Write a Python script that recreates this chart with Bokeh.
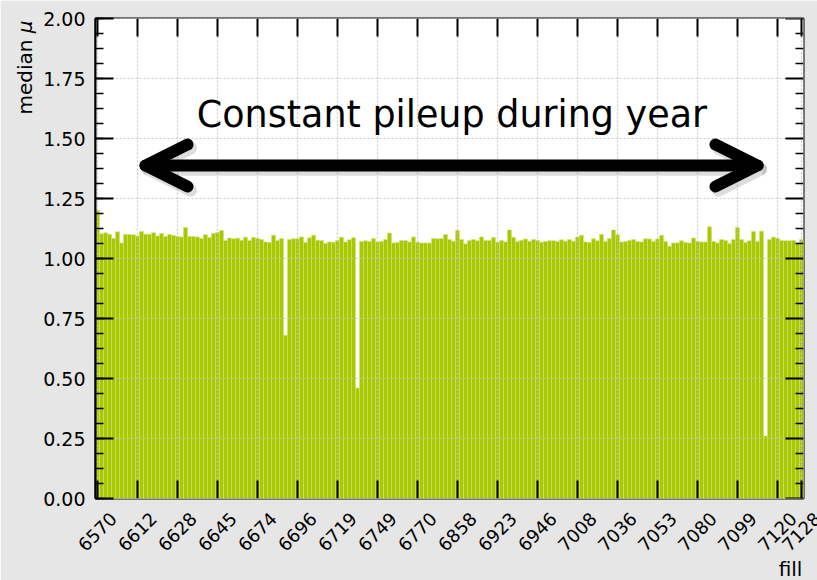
from math import pi
from bokeh.plotting import figure
from bokeh.models import (ColumnDataSource, SingleIntervalTicker,
                          Range1d, Label, Arrow, OpenHead, BoxAnnotation, NumeralTickFormatter)
from bokeh.core.properties import value
from bokeh.embed import file_html
from bokeh.resources import INLINE

# median pileup per fill (one bar per fill, in fill order)
median_mu = [
    1.200, 1.103, 1.107, 1.101, 1.083, 1.111, 1.065, 1.100, 1.100, 1.099,
    1.094, 1.113, 1.101, 1.101, 1.107, 1.094, 1.104, 1.092, 1.100, 1.096,
    1.093, 1.090, 1.129, 1.092, 1.092, 1.090, 1.083, 1.099, 1.088, 1.104,
    1.108, 1.117, 1.075, 1.085, 1.082, 1.084, 1.076, 1.089, 1.075, 1.088,
    1.083, 1.079, 1.069, 1.067, 1.097, 1.075, 1.083, 0.680, 1.079, 1.082,
    1.082, 1.090, 1.067, 1.086, 1.097, 1.076, 1.075, 1.063, 1.069, 1.068,
    1.075, 1.089, 1.069, 1.078, 1.086, 0.460, 1.071, 1.074, 1.071, 1.083,
    1.069, 1.071, 1.079, 1.106, 1.065, 1.067, 1.075, 1.075, 1.069, 1.090,
    1.068, 1.065, 1.065, 1.065, 1.083, 1.082, 1.083, 1.100, 1.079, 1.072,
    1.117, 1.079, 1.061, 1.075, 1.079, 1.074, 1.090, 1.075, 1.075, 1.088,
    1.068, 1.075, 1.069, 1.119, 1.088, 1.071, 1.076, 1.081, 1.072, 1.079,
    1.075, 1.068, 1.071, 1.074, 1.074, 1.071, 1.078, 1.072, 1.079, 1.072,
    1.090, 1.097, 1.069, 1.067, 1.082, 1.074, 1.100, 1.071, 1.083, 1.119,
    1.099, 1.069, 1.071, 1.075, 1.079, 1.071, 1.069, 1.082, 1.081, 1.071,
    1.081, 1.097, 1.071, 1.051, 1.065, 1.065, 1.074, 1.067, 1.065, 1.085,
    1.071, 1.069, 1.069, 1.132, 1.071, 1.065, 1.079, 1.075, 1.063, 1.079,
    1.129, 1.079, 1.067, 1.074, 1.113, 1.071, 1.114, 0.260, 1.079, 1.089,
    1.083, 1.075, 1.074, 1.074, 1.075, 1.060, 1.079,
]

# fill numbers shown as tick labels (every 10th bar, plus the last one)
tick_labels = ["6570", "6612", "6628", "6645", "6674", "6696", "6719", "6749", "6770",
               "6858", "6923", "6946", "7008", "7036", "7053", "7080", "7099", "7120", "7128"]

n = len(median_mu)
bar_index = list(range(n))
tick_index = list(range(0, n, 10)) + [n - 1]

source = ColumnDataSource(data=dict(x=bar_index, top=median_mu))

FONT = "DejaVu Sans"
Y0, Y1 = 0.0, 2.0
X0, X1 = -0.5, n - 0.5
PX_X = (X1 - X0) / 708.0     # data units per pixel, x
PX_Y = (Y1 - Y0) / 480.0     # data units per pixel, y

p = figure(width=817, height=580, output_backend="svg", toolbar_location=None,
           x_range=Range1d(X0, X1), y_range=Range1d(Y0, Y1),
           min_border_left=95, min_border_right=14, min_border_top=18, min_border_bottom=82,
           border_fill_color="#e6e6e6", background_fill_color="white",
           outline_line_color="black", outline_line_width=2)

# white panel with dark border
p.add_layout(BoxAnnotation(left=11, right=900, top=7, bottom=700,
                           left_units="canvas", right_units="canvas", top_units="canvas",
                           bottom_units="canvas", fill_color="white", fill_alpha=1.0,
                           line_color="#222222", line_width=2, level="image"))
p.add_layout(BoxAnnotation(left=135, right=635, top=556, bottom=700,
                           left_units="canvas", right_units="canvas", top_units="canvas",
                           bottom_units="canvas", fill_color="#f2f2f2", fill_alpha=1.0,
                           line_color=None, border_radius=22, level="image"))

# bars
p.vbar(x="x", top="top", width=1.0, source=source,
       fill_color="#a8c900", line_color="#cfe27a", line_width=0.6)

# dotted grid drawn over the bars
major_y = [0.25 * k for k in range(9)]
minor_y = [0.0625 * k for k in range(33) if k % 4 != 0]
p.xgrid.visible = False
p.ygrid.visible = False
p.segment(x0=tick_index, y0=[Y0] * len(tick_index), x1=tick_index, y1=[Y1] * len(tick_index),
          line_color="#c4c4c4", line_dash="2 2", line_width=1.2, line_alpha=0.9)
p.segment(x0=[X0] * len(major_y), y0=major_y, x1=[X1] * len(major_y), y1=major_y,
          line_color="#c4c4c4", line_dash="2 2", line_width=1.2, line_alpha=0.9)

# inward ticks on bottom, top and right edges
k = len(tick_index)
p.segment(x0=tick_index, y0=[Y0] * k, x1=tick_index, y1=[Y0 + 18 * PX_Y] * k,
          line_color="black", line_width=2)
p.segment(x0=tick_index, y0=[Y1 - 18 * PX_Y] * k, x1=tick_index, y1=[Y1] * k,
          line_color="black", line_width=2)
p.segment(x0=[X1 - 18 * PX_X] * len(major_y), y0=major_y, x1=[X1] * len(major_y), y1=major_y,
          line_color="black", line_width=2)
p.segment(x0=[X1 - 8 * PX_X] * len(minor_y), y0=minor_y, x1=[X1] * len(minor_y), y1=minor_y,
          line_color="black", line_width=1.5)

# bottom axis hidden; its rotated labels are drawn as text centred under the ticks
p.xaxis.visible = False
p.text(x=[i + 16 * PX_X for i in tick_index], y=[Y0 - 17 * PX_Y] * k,
       text=tick_labels, angle=pi / 4, text_align="right", text_baseline="middle",
       text_font=value(FONT), text_font_size="18px", text_color="black", level="overlay")

ya = p.yaxis[0]
ya.ticker = SingleIntervalTicker(interval=0.25, num_minor_ticks=4)
ya.formatter = NumeralTickFormatter(format="0.00")
ya.major_label_text_font = FONT
ya.major_label_text_font_size = "19px"
ya.major_label_text_color = "black"
ya.major_tick_in = 18
ya.major_tick_out = 0
ya.minor_tick_in = 8
ya.minor_tick_out = 0
ya.major_tick_line_width = 2
ya.minor_tick_line_width = 1.5
ya.axis_line_width = 2
ya.major_label_standoff = 10
ya.level = "overlay"

# axis titles ("median" upright, "μ" italic, placed at the top end of the y axis)
p.text(x=[X0 - 71 * PX_X], y=[Y1 - 2 * PX_Y], text=["μ"], angle=pi / 2,
       text_align="right", text_baseline="middle", text_font=value(FONT),
       text_font_style="italic", text_font_size="20px", text_color="black", level="overlay")
p.text(x=[X0 - 71 * PX_X], y=[Y1 - 21 * PX_Y], text=["median"], angle=pi / 2,
       text_align="right", text_baseline="middle", text_font=value(FONT),
       text_font_size="20px", text_color="black", level="overlay")
p.text(x=[X1 - 13 * PX_X], y=[Y0 - 70 * PX_Y], text=["fill"],
       text_align="center", text_baseline="middle", text_font=value(FONT),
       text_font_size="20px", text_color="black", level="overlay")

# annotation text and arrow
p.add_layout(Label(x=88.6, y=1.598, text="Constant pileup during year", text_align="center",
                   text_baseline="alphabetic", text_font=FONT, text_font_size="36.5px",
                   text_color="black", level="overlay"))

def head(color, alpha, lw):
    return OpenHead(size=42, line_width=lw, line_color=color, line_alpha=alpha,
                    line_cap="round", line_join="round")

p.add_layout(Arrow(start=head("#777777", 0.25, 13), end=head("#777777", 0.25, 13),
                   x_start=12.75, y_start=1.372, x_end=165.75, y_end=1.372,
                   line_width=13, line_color="#777777", line_alpha=0.25, line_cap="round",
                   level="overlay"))
p.add_layout(Arrow(start=head("black", 1.0, 12), end=head("black", 1.0, 12),
                   x_start=12.0, y_start=1.3875, x_end=165.0, y_end=1.3875,
                   line_width=12, line_color="black", line_cap="round", level="overlay"))

open("out.html", "w").write(file_html(p, INLINE))
